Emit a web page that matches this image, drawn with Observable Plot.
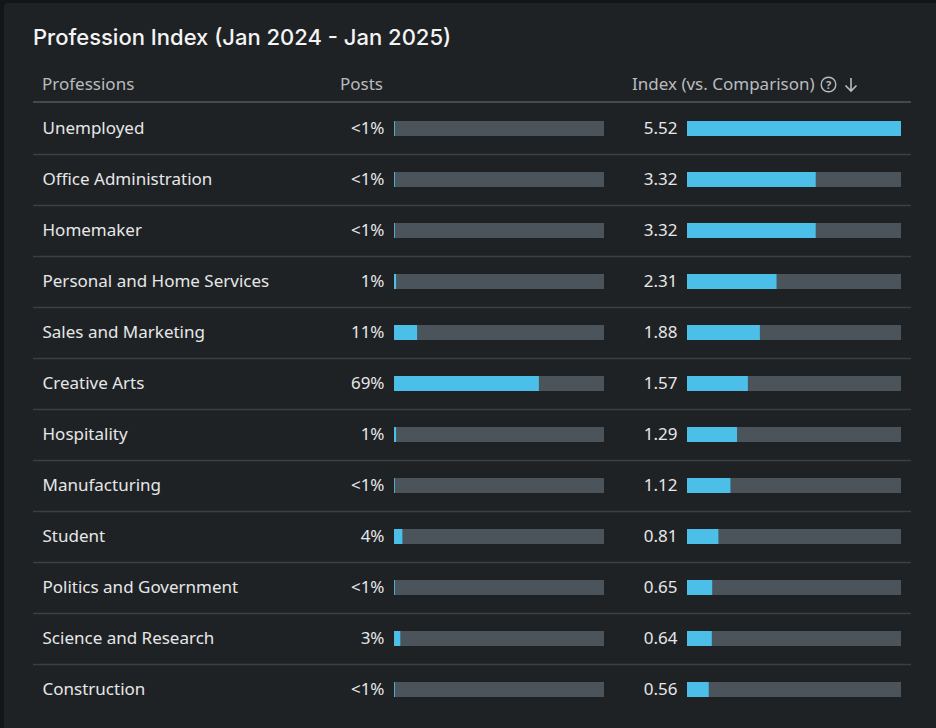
<!DOCTYPE html>
<html>
<head>
<meta charset="utf-8">
<script src="https://cdn.jsdelivr.net/npm/d3@7"></script>
<script src="https://cdn.jsdelivr.net/npm/@observablehq/plot@0.6"></script>
<style>
  html, body { margin: 0; padding: 0; background: #131619; }
  body { width: 936px; height: 728px; overflow: hidden; position: relative; font-family: "Noto Sans", "Open Sans", sans-serif; }
  #card { position: absolute; left: 4px; top: 3px; width: 940px; height: 740px; background: #1f2225; border-radius: 4px; }
  #title { position: absolute; left: 33px; top: 22px; font-family: "Inter", sans-serif; font-weight: 500; font-size: 22px; line-height: 30px; color: #f4f4f4; white-space: nowrap; }
  .hdr { position: absolute; top: 72px; font-size: 17px; line-height: 24px; color: #b9bcbf; white-space: nowrap; }
  #hline { position: absolute; left: 33px; top: 101px; width: 878px; height: 2px; background: #44494e; }
  .layer { position: absolute; top: 103px; }
  .icon { display: inline-block; vertical-align: -3px; margin-left: 6px; }
</style>
</head>
<body>
<div id="card"></div>
<div id="title">Profession Index (Jan 2024 - Jan 2025)</div>
<div class="hdr" style="left:42px">Professions</div>
<div class="hdr" style="left:340px">Posts</div>
<div class="hdr" style="left:632px">Index (vs. Comparison)<svg class="icon" style="margin-left:5px" width="17" height="17" viewBox="0 0 17 17"><circle cx="8.5" cy="8.5" r="7.3" fill="none" stroke="#b9bcbf" stroke-width="1.4"/><text x="8.5" y="12.6" text-anchor="middle" font-size="11" font-weight="bold" fill="#b9bcbf" font-family="Noto Sans">?</text></svg><svg class="icon" style="margin-left:7px" width="14" height="17" viewBox="0 0 14 17"><path d="M7 2 V15 M1.5 9.5 L7 15 L12.5 9.5" fill="none" stroke="#b9bcbf" stroke-width="1.6"/></svg></div>
<div id="hline"></div>
<div id="base" class="layer" style="left:33px"></div>
<div id="posts" class="layer" style="left:300px"></div>
<div id="index" class="layer" style="left:600px"></div>
<script>
const professions = ["Unemployed","Office Administration","Homemaker","Personal and Home Services","Sales and Marketing","Creative Arts","Hospitality","Manufacturing","Student","Politics and Government","Science and Research","Construction"];
const postLabels = ["<1%","<1%","<1%","1%","11%","69%","1%","<1%","4%","<1%","3%","<1%"];
const postValues = [0.4,0.4,0.4,1,11,69,1,0.4,4,0.4,3,0.4];
const indexValues = [5.52,3.32,3.32,2.31,1.88,1.57,1.29,1.12,0.81,0.65,0.64,0.56];

const rows = professions.map((p, i) => ({profession: p, postLabel: postLabels[i], post: postValues[i], index: indexValues[i]}));

const rowH = 51;
const H = rowH * professions.length;
const inset = 18;
const textColor = "#e6e7e8";
const blue = "#4bbfe8";
const track = "#4a545a";
const font = {fontFamily: "Noto Sans, Open Sans, sans-serif", background: "transparent", overflow: "visible"};
const yScale = {type: "band", domain: professions, range: [0, H], padding: 0, axis: null};

// base layer: names & separators
const base = Plot.plot({
  width: 878, height: H, margin: 0,
  style: font,
  y: yScale,
  x: {axis: null, domain: [0, 1]},
  marks: [
    Plot.ruleY(rows.slice(0, -1), {y: "profession", dy: rowH / 2, stroke: "#3b3f43", strokeWidth: 1.3}),
    Plot.text(rows, {y: "profession", text: "profession", frameAnchor: "left", dx: 9, fill: textColor, fontSize: 17, textAnchor: "start"})
  ]
});
document.getElementById("base").appendChild(base);

// posts layer
const posts = Plot.plot({
  width: 304, height: H, marginLeft: 94, marginRight: 0, marginTop: 0, marginBottom: 0,
  style: font,
  y: yScale,
  x: {axis: null, domain: [0, 100]},
  marks: [
    Plot.barX(rows, {y: "profession", x1: 0, x2: 100, fill: track, insetTop: inset, insetBottom: inset}),
    Plot.barX(rows, {y: "profession", x1: 0, x2: "post", fill: blue, insetTop: inset, insetBottom: inset}),
    Plot.text(rows, {y: "profession", x: 0, text: "postLabel", textAnchor: "end", dx: -10, fill: textColor, fontSize: 17})
  ]
});
document.getElementById("posts").appendChild(posts);

// index layer
const idx = Plot.plot({
  width: 301, height: H, marginLeft: 87, marginRight: 0, marginTop: 0, marginBottom: 0,
  style: font,
  y: yScale,
  x: {axis: null, domain: [0, d3.max(indexValues)]},
  marks: [
    Plot.barX(rows, {y: "profession", x1: 0, x2: d3.max(indexValues), fill: track, insetTop: inset, insetBottom: inset}),
    Plot.barX(rows, {y: "profession", x1: 0, x2: "index", fill: blue, insetTop: inset, insetBottom: inset}),
    Plot.text(rows, {y: "profession", x: 0, text: d => d.index.toFixed(2), textAnchor: "end", dx: -10, fill: textColor, fontSize: 17})
  ]
});
document.getElementById("index").appendChild(idx);
</script>
</body>
</html>
